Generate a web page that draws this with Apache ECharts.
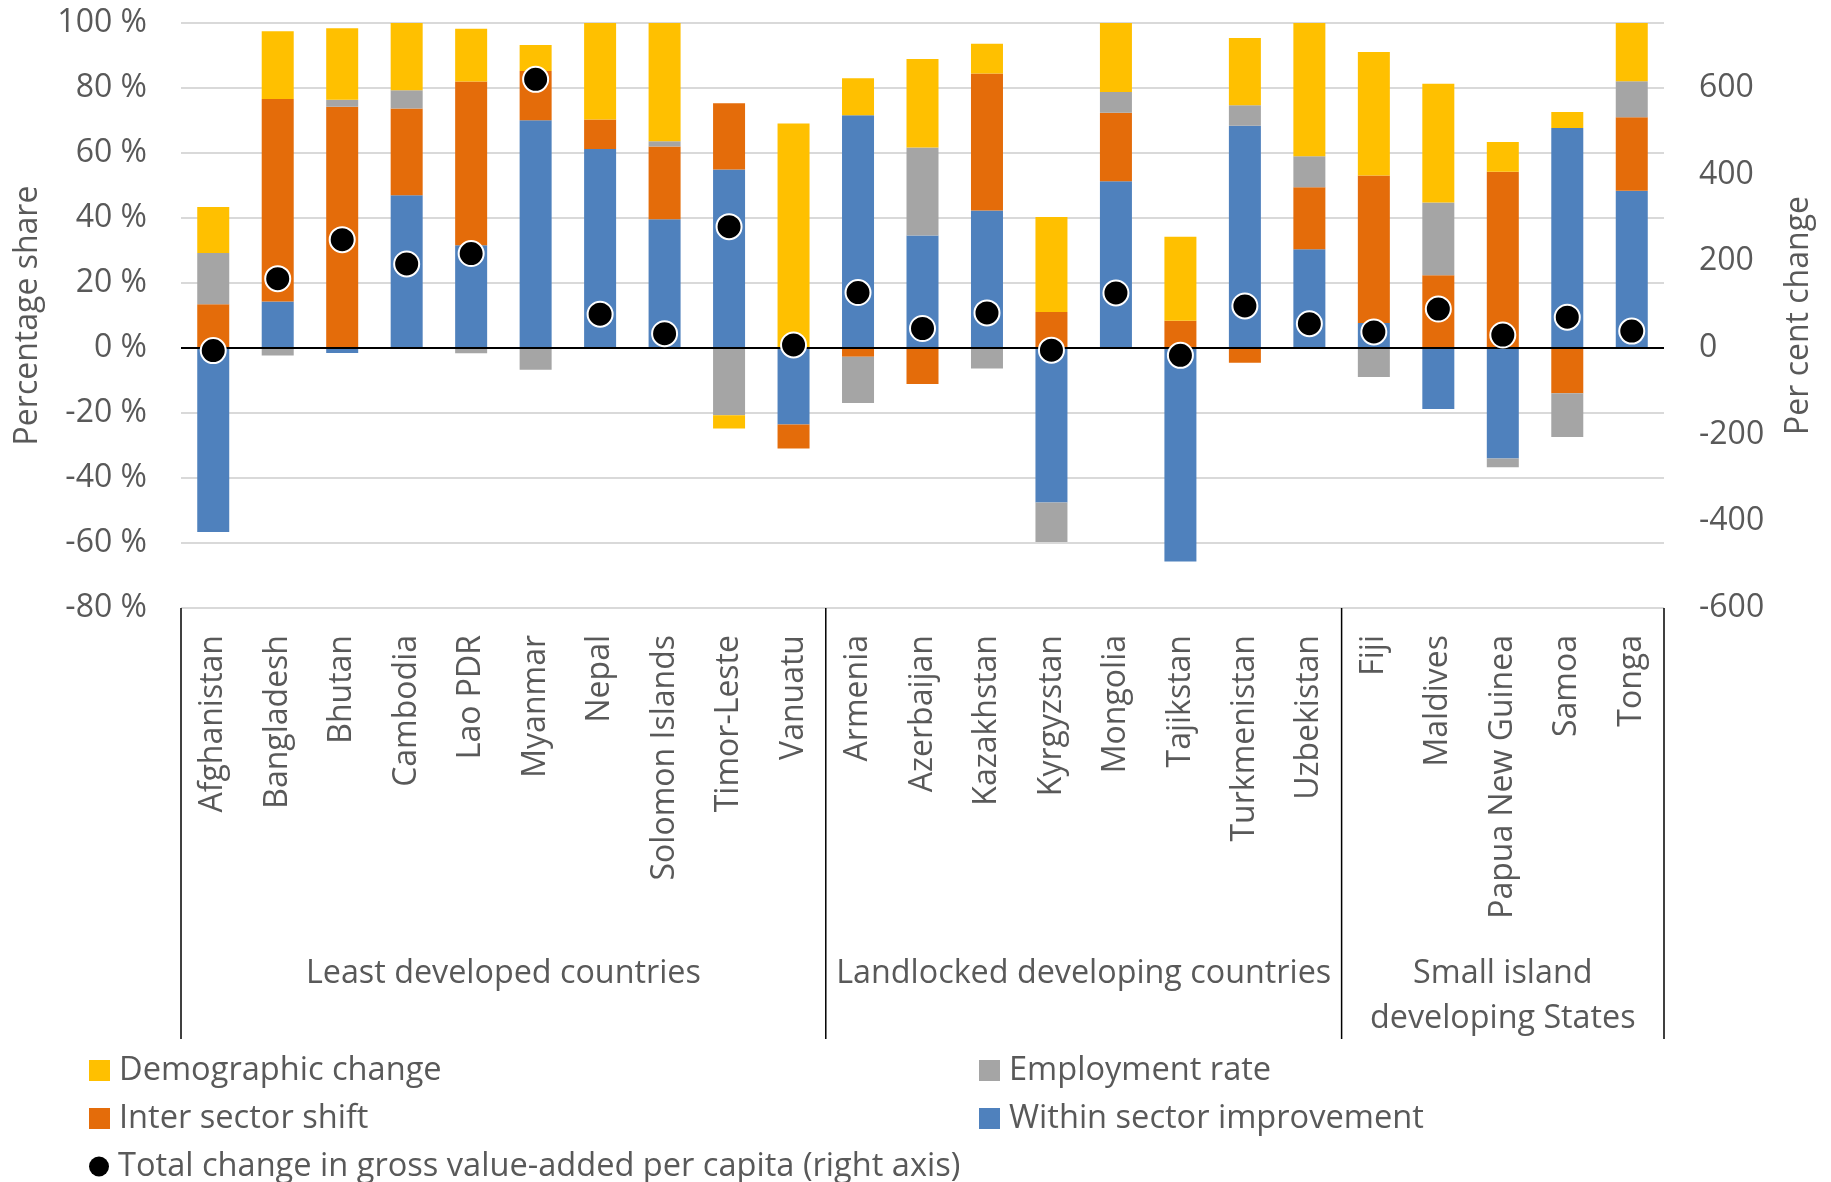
<!DOCTYPE html>
<html>
<head>
<meta charset="utf-8">
<script src="https://cdn.jsdelivr.net/npm/echarts@6/dist/echarts.min.js"></script>
<style>
  html, body { margin: 0; padding: 0; background: #fff; }
  #chart { width: 1831px; height: 1182px; }
</style>
</head>
<body>
<div id="chart"></div>
<script>
// Countries, in display order
const countries = ['Afghanistan', 'Bangladesh', 'Bhutan', 'Cambodia', 'Lao PDR', 'Myanmar', 'Nepal',
  'Solomon Islands', 'Timor-Leste', 'Vanuatu', 'Armenia', 'Azerbaijan', 'Kazakhstan', 'Kyrgyzstan',
  'Mongolia', 'Tajikstan', 'Turkmenistan', 'Uzbekistan', 'Fiji', 'Maldives', 'Papua New Guinea',
  'Samoa', 'Tonga'];

// Country groups and how many countries each holds
const groupNames = ['Least developed countries', 'Landlocked developing countries', 'Small island\ndeveloping States'];
const groupSizes = [10, 8, 5];

// Decomposition of the change (percentage share)
const withinSector = [-56.6, 14.3, -1.5, 47.0, 31.6, 70.1, 61.2, 39.6, 54.9, -23.5, 71.6, 34.6, 42.3, -47.5, 51.3, -65.7, 68.4, 30.4, 7.7, -18.8, -34.0, 67.7, 48.4];
const interSector = [13.5, 62.3, 74.2, 26.7, 50.4, 15.1, 9.1, 22.4, 20.4, -7.4, -2.7, -11.1, 42.2, 11.1, 21.1, 8.4, -4.5, 19.1, 45.4, 22.4, 54.2, -13.9, 22.6];
const employmentRate = [15.7, -2.3, 2.2, 5.6, -1.6, -6.7, 0, 1.6, -20.7, 0, -14.2, 27.1, -6.3, -12.2, 6.4, 0, 6.3, 9.5, -8.9, 22.4, -2.7, -13.5, 11.1];
const demographic = [14.2, 20.9, 22.0, 20.7, 16.2, 8.0, 29.7, 36.4, -4.1, 69.1, 11.4, 27.2, 9.1, 29.2, 21.2, 25.8, 20.7, 41.0, 38.0, 36.5, 9.2, 4.9, 17.9];

// Total change in gross value-added per capita (per cent, right axis)
const totalChange = [-6, 160, 250, 194, 218, 620, 78, 33, 280, 7, 128, 45, 81, -5, 127, -17, 97, 56, 37, 90, 30, 71, 39];

const FONT = '"Open Sans", "Noto Sans", sans-serif';
const TEXT = '#595959';

const chart = echarts.init(document.getElementById('chart'), null, { renderer: 'canvas' });

function barSeries(name, data, color) {
  return {
    name: name,
    type: 'bar',
    stack: 'share',
    barWidth: 32,
    itemStyle: { color: color },
    data: data,
    z: 2
  };
}

const series = [
  barSeries('Within sector improvement', withinSector, '#4F81BD'),
  barSeries('Inter sector shift', interSector, '#E46C0A'),
  barSeries('Employment rate', employmentRate, '#A5A5A5'),
  barSeries('Demographic change', demographic, '#FFC000'),
  {
    name: 'Total change in gross value-added per capita (right axis)',
    type: 'scatter',
    yAxisIndex: 1,
    symbol: 'circle',
    symbolSize: 25,
    itemStyle: { color: '#000', borderColor: '#fff', borderWidth: 2, opacity: 1 },
    data: totalChange,
    z: 10
  }
];

// zero line across the plot
series[0].markLine = {
  silent: true,
  symbol: 'none',
  label: { show: false },
  lineStyle: { color: '#000', width: 2, type: 'solid' },
  data: [{ yAxis: 0 }],
  z: 6
};

// one legend block per entry, laid out in two columns
function legendBlock(name, left, top, icon, extra) {
  return Object.assign({
    left: left,
    top: top,
    orient: 'vertical',
    itemWidth: 21,
    itemHeight: 21,
    icon: icon,
    padding: 0,
    selectedMode: false,
    textStyle: { fontFamily: FONT, fontSize: 32.6, color: TEXT, lineHeight: 32, padding: [0, 0, 0, 4] },
    data: [name]
  }, extra || {});
}

const option = {
  animation: false,
  backgroundColor: '#fff',
  textStyle: { fontFamily: FONT },
  grid: { left: 181, top: 23, width: 1483, height: 585, containLabel: false },
  legend: [
    legendBlock('Demographic change', 89, 1054, 'rect'),
    legendBlock('Inter sector shift', 89, 1102, 'rect'),
    legendBlock('Total change in gross value-added per capita (right axis)', 89, 1150, 'circle',
      { itemWidth: 20, itemHeight: 20, itemStyle: { borderWidth: 0, opacity: 1 } }),
    legendBlock('Employment rate', 979, 1054, 'rect'),
    legendBlock('Within sector improvement', 979, 1102, 'rect')
  ],
  xAxis: {
    type: 'category',
    data: countries,
    position: 'bottom',
    axisLine: { show: false, onZero: false },
    axisTick: { show: false },
    splitLine: { show: false },
    axisLabel: {
      rotate: 90,
      margin: 27,
      interval: 0,
      fontFamily: FONT,
      fontSize: 32,
      color: TEXT
    }
  },
  yAxis: [
    {
      type: 'value',
      min: -80,
      max: 100,
      interval: 20,
      name: 'Percentage share',
      nameLocation: 'middle',
      nameGap: 137,
      nameTextStyle: { fontFamily: FONT, fontSize: 32, color: TEXT },
      axisLine: { show: false },
      axisTick: { show: false },
      splitLine: { lineStyle: { color: '#D9D9D9', width: 2 } },
      axisLabel: { formatter: '{value} %', margin: 34, fontFamily: FONT, fontSize: 32, color: TEXT }
    },
    {
      type: 'value',
      min: -600,
      max: 750,
      interval: 200,
      position: 'right',
      name: 'Per cent change',
      nameLocation: 'middle',
      nameGap: 119,
      nameTextStyle: { fontFamily: FONT, fontSize: 32, color: TEXT },
      axisLine: { show: false },
      axisTick: { show: false },
      splitLine: { show: false },
      axisLabel: {
        margin: 35,
        fontFamily: FONT,
        fontSize: 32,
        color: TEXT,
        formatter: function (v) { return v > 700 ? '' : String(v); }
      }
    }
  ],
  series: series
};

chart.setOption(option);

// Group separators and group titles under the category labels,
// positioned from the category axis scale
function drawGroups() {
  const c0 = chart.convertToPixel({ xAxisIndex: 0 }, 0);
  const c1 = chart.convertToPixel({ xAxisIndex: 0 }, 1);
  const step = c1 - c0;
  const yBottom = chart.convertToPixel({ yAxisIndex: 0 }, -80);
  const lineEnd = yBottom + 431;
  const labelTop = yBottom + 343;

  const elements = [];
  let start = 0;
  const edges = [c0 - step / 2];
  groupSizes.forEach(function (n) {
    start += n;
    edges.push(chart.convertToPixel({ xAxisIndex: 0 }, start - 1) + step / 2);
  });

  edges.forEach(function (x) {
    elements.push({
      type: 'line',
      silent: true,
      shape: { x1: x, y1: yBottom, x2: x, y2: lineEnd },
      style: { stroke: '#000', lineWidth: 1.5 }
    });
  });

  groupNames.forEach(function (name, i) {
    const cx = (edges[i] + edges[i + 1]) / 2;
    elements.push({
      type: 'text',
      silent: true,
      x: cx,
      y: labelTop,
      style: {
        text: name,
        fontFamily: FONT,
        fontSize: 32.3,
        lineHeight: 45,
        fill: TEXT,
        align: 'center',
        verticalAlign: 'top'
      }
    });
  });

  chart.setOption({ graphic: { elements: elements } });
}

drawGroups();
</script>
</body>
</html>
